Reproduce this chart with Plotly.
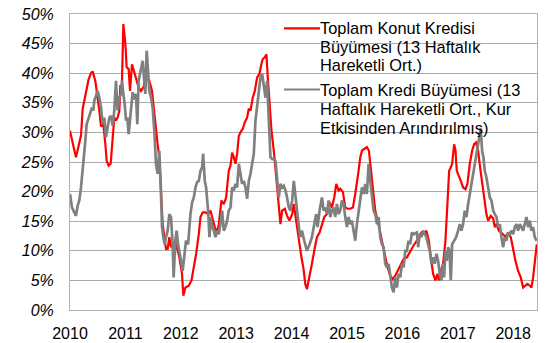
import plotly.graph_objects as go

# ---------------- data (decimal years, % growth) ----------------
konut_t = [
    2010.000, 2010.036, 2010.078, 2010.108, 2010.156, 2010.199, 2010.229, 2010.259, 2010.301, 2010.337,
    2010.379, 2010.409, 2010.457, 2010.499, 2010.529, 2010.560, 2010.602, 2010.638, 2010.662, 2010.698,
    2010.734, 2010.770, 2010.800, 2010.830, 2010.860, 2010.891, 2010.909, 2010.933, 2010.963, 2010.999,
    2011.023, 2011.059, 2011.083, 2011.119, 2011.161, 2011.203, 2011.239, 2011.282, 2011.324, 2011.372,
    2011.432, 2011.480, 2011.504, 2011.540, 2011.582, 2011.612, 2011.643, 2011.673, 2011.703, 2011.733,
    2011.763, 2011.793, 2011.823, 2011.853, 2011.913, 2011.974, 2012.022, 2012.046,
    2012.084, 2012.144, 2012.193, 2012.235, 2012.277, 2012.325, 2012.355, 2012.397, 2012.445, 2012.493,
    2012.536, 2012.566, 2012.614, 2012.656, 2012.686, 2012.734, 2012.776, 2012.818, 2012.866, 2012.897,
    2012.927, 2012.957, 2012.987, 2013.017, 2013.047, 2013.077, 2013.119, 2013.155, 2013.197, 2013.227,
    2013.258, 2013.300, 2013.336, 2013.378, 2013.420, 2013.456, 2013.480, 2013.516, 2013.546, 2013.570,
    2013.600, 2013.637, 2013.679, 2013.709, 2013.739, 2013.769, 2013.799, 2013.829, 2013.877, 2013.919,
    2013.962, 2014.010, 2014.040, 2014.082, 2014.130, 2014.178, 2014.215,
    2014.247, 2014.277, 2014.325, 2014.367, 2014.409, 2014.457, 2014.505, 2014.548, 2014.590, 2014.638,
    2014.686, 2014.728, 2014.770, 2014.806, 2014.848, 2014.878, 2014.927, 2014.969, 2015.011, 2015.059,
    2015.107, 2015.149, 2015.179, 2015.209, 2015.240, 2015.270, 2015.312, 2015.360, 2015.396, 2015.432,
    2015.468, 2015.510, 2015.553, 2015.601, 2015.649, 2015.691, 2015.733, 2015.781, 2015.829, 2015.871,
    2015.913, 2015.961, 2016.022, 2016.082, 2016.142, 2016.202, 2016.262,
    2016.284, 2016.344, 2016.392, 2016.434, 2016.477, 2016.513, 2016.555, 2016.597, 2016.633, 2016.657,
    2016.693, 2016.735, 2016.777, 2016.813, 2016.844, 2016.874, 2016.898, 2016.934, 2016.958, 2016.982,
    2017.006, 2017.054, 2017.096, 2017.138, 2017.174, 2017.217, 2017.259, 2017.295, 2017.331, 2017.367,
    2017.403, 2017.439, 2017.475, 2017.517, 2017.548, 2017.596, 2017.638, 2017.668, 2017.698, 2017.740,
    2017.776, 2017.818, 2017.860, 2017.909, 2017.957, 2017.999, 2018.041, 2018.089, 2018.137, 2018.179,
    2018.221, 2018.258, 2018.300, 2018.330, 2018.360, 2018.390, 2018.426,
]
konut_v = [
    30.3, 29.0, 27.0, 25.8, 28.0, 29.5, 34.0, 35.4, 37.0, 39.0,
    40.0, 40.3, 38.7, 36.0, 33.7, 31.0, 31.4, 28.0, 25.2, 24.4,
    24.7, 29.0, 32.5, 32.0, 32.5, 33.7, 38.0, 36.5, 48.3, 45.0,
    41.0, 40.7, 37.0, 41.5, 40.0, 38.7, 37.6, 37.0, 37.6, 39.3,
    38.7, 37.0, 34.8, 30.9, 28.0, 25.8, 20.7, 14.5, 12.3, 10.3,
    10.3, 12.3, 10.6, 11.1, 11.1, 8.9, 6.1, 2.4,
    3.8, 4.1, 5.0, 7.2, 9.5, 12.8, 15.7, 16.5, 16.5, 16.2,
    16.8, 15.7, 14.0, 13.1, 14.5, 18.5, 17.9, 19.0, 23.5, 24.4,
    26.6, 25.8, 24.7, 26.4, 29.4, 30.0, 30.6, 31.7, 32.5, 34.0,
    33.7, 35.9, 37.0, 39.3, 39.9, 41.6, 42.4, 42.7, 43.2, 39.3,
    34.8, 30.3, 26.9, 23.5, 20.7, 16.8, 14.5, 16.8, 17.1, 15.9,
    15.1, 16.2, 17.9, 15.1, 11.7, 8.9, 7.0,
    4.4, 3.5, 5.5, 7.8, 10.0, 12.3, 13.1, 14.5, 15.7, 16.2,
    18.2, 17.3, 19.0, 21.3, 20.2, 20.5, 19.9, 17.3, 17.1, 17.1,
    17.3, 19.6, 21.3, 23.5, 25.8, 26.9, 27.2, 27.5, 26.9, 23.5,
    19.6, 16.8, 15.1, 13.1, 11.1, 8.9, 7.2, 5.8, 5.2, 5.8,
    6.6, 7.5, 8.6, 8.9, 10.0, 10.9, 11.7,
    12.3, 13.1, 12.8, 13.4, 11.7, 8.9, 6.1, 5.0, 6.1, 5.0,
    6.6, 7.8, 11.7, 17.9, 23.5, 24.1, 24.7, 28.0, 27.0, 23.5,
    23.0, 21.8, 20.7, 20.4, 21.3, 24.7, 26.9, 28.0, 28.3, 26.9,
    24.1, 21.3, 18.5, 16.2, 15.1, 15.9, 15.5, 14.0, 14.5, 13.4,
    13.1, 12.8, 12.3, 13.1, 12.3, 10.0, 8.3, 6.6, 5.5, 3.8,
    4.1, 4.4, 4.1, 3.8, 5.5, 7.8, 11.1,
]

kredi_t = [
    2010.000, 2010.036, 2010.078, 2010.108, 2010.138, 2010.168, 2010.199, 2010.229, 2010.259, 2010.277,
    2010.301, 2010.337, 2010.361, 2010.397, 2010.421, 2010.439, 2010.469, 2010.499, 2010.529, 2010.560,
    2010.590, 2010.620, 2010.650, 2010.680, 2010.710, 2010.740, 2010.770, 2010.800, 2010.830, 2010.860,
    2010.891, 2010.921, 2010.939, 2010.963, 2010.987, 2011.011, 2011.035, 2011.059, 2011.083, 2011.107,
    2011.131, 2011.161, 2011.191, 2011.215, 2011.239, 2011.264, 2011.288, 2011.312, 2011.336, 2011.360,
    2011.384, 2011.408, 2011.432, 2011.462, 2011.492, 2011.522, 2011.552, 2011.582, 2011.612, 2011.637,
    2011.661, 2011.685, 2011.709, 2011.733, 2011.763, 2011.793, 2011.823, 2011.853, 2011.871, 2011.901,
    2011.925, 2011.950, 2011.974, 2012.004, 2012.034, 2012.064, 2012.094,
    2012.132, 2012.174, 2012.205, 2012.235, 2012.265, 2012.295, 2012.325, 2012.355, 2012.385, 2012.403,
    2012.433, 2012.457, 2012.493, 2012.517, 2012.542, 2012.566, 2012.596, 2012.626, 2012.656, 2012.686,
    2012.716, 2012.746, 2012.776, 2012.806, 2012.836, 2012.866, 2012.897, 2012.927, 2012.957, 2012.987,
    2013.017, 2013.047, 2013.077, 2013.107, 2013.137, 2013.167, 2013.197, 2013.227, 2013.258, 2013.288,
    2013.318, 2013.348, 2013.378, 2013.408, 2013.438, 2013.468, 2013.498, 2013.528, 2013.558, 2013.588,
    2013.619, 2013.649, 2013.679, 2013.709, 2013.739, 2013.769, 2013.799, 2013.829, 2013.859, 2013.889,
    2013.919, 2013.950, 2013.980, 2014.010, 2014.040,
    2014.096, 2014.126, 2014.156, 2014.187, 2014.229, 2014.277, 2014.325, 2014.367, 2014.409, 2014.445,
    2014.469, 2014.505, 2014.548, 2014.578, 2014.608, 2014.638, 2014.668, 2014.698, 2014.728, 2014.758,
    2014.788, 2014.818, 2014.848, 2014.878, 2014.909, 2014.939, 2014.969, 2014.999, 2015.029, 2015.059,
    2015.089, 2015.119, 2015.149, 2015.179, 2015.209, 2015.240, 2015.270, 2015.300, 2015.330, 2015.360,
    2015.390, 2015.420, 2015.450, 2015.480, 2015.510, 2015.541, 2015.571, 2015.601, 2015.631, 2015.661,
    2015.691, 2015.721, 2015.751, 2015.781, 2015.811, 2015.841, 2015.871, 2015.901, 2015.931, 2015.962,
    2015.992, 2016.022, 2016.052, 2016.082, 2016.112, 2016.142, 2016.172, 2016.202, 2016.262,
    2016.284, 2016.314, 2016.344, 2016.374, 2016.404, 2016.434, 2016.464, 2016.495, 2016.525, 2016.555,
    2016.585, 2016.615, 2016.645, 2016.675, 2016.705, 2016.735, 2016.753, 2016.777, 2016.801, 2016.826,
    2016.850, 2016.874, 2016.898, 2016.934, 2016.970, 2017.006, 2017.036, 2017.066, 2017.096, 2017.126,
    2017.156, 2017.187, 2017.217, 2017.247, 2017.277, 2017.307, 2017.337, 2017.367, 2017.397, 2017.415,
    2017.439, 2017.463, 2017.487, 2017.517, 2017.548, 2017.578, 2017.608, 2017.638, 2017.668, 2017.698,
    2017.728, 2017.758, 2017.788, 2017.818, 2017.848, 2017.878, 2017.909, 2017.939, 2017.969, 2017.999,
    2018.029, 2018.059, 2018.089, 2018.119, 2018.149, 2018.179, 2018.209, 2018.239, 2018.270, 2018.300,
    2018.330, 2018.360, 2018.390, 2018.426,
]
kredi_v = [
    19.6, 17.3, 16.5, 15.9, 17.6, 18.5, 20.7, 23.5, 25.8, 28.6,
    31.4, 32.5, 33.1, 34.2, 33.7, 35.4, 36.2, 37.0, 35.9, 34.2,
    31.4, 32.5, 29.2, 30.9, 32.5, 32.8, 31.1, 33.7, 38.7, 33.7,
    35.9, 36.5, 38.7, 36.5, 34.8, 32.0, 32.5, 29.7, 32.0, 34.2,
    36.8, 35.6, 36.5, 31.4, 38.7, 39.9, 41.0, 42.1, 39.3, 36.5,
    43.8, 39.3, 37.0, 35.9, 34.2, 30.3, 24.7, 23.0, 26.9, 21.3,
    14.0, 12.3, 11.1, 12.3, 13.4, 16.2, 15.7, 11.1, 5.5, 11.7,
    13.4, 11.1, 10.0, 8.3, 6.6, 8.9, 11.7,
    11.1, 16.2, 18.2, 19.0, 20.7, 21.6, 21.8, 23.5, 24.1, 26.4,
    21.8, 20.7, 16.8, 12.3, 15.7, 14.0, 13.4, 12.3, 13.4, 12.8,
    14.5, 16.8, 13.4, 14.0, 15.1, 16.8, 17.3, 20.7, 20.2, 21.3,
    20.7, 24.7, 23.0, 21.3, 21.8, 20.7, 18.8, 21.8, 23.0, 24.7,
    26.4, 32.0, 34.8, 36.5, 39.3, 39.9, 38.2, 35.9, 38.7, 32.0,
    25.8, 25.5, 25.5, 25.2, 22.4, 19.0, 21.3, 20.7, 21.0, 20.2,
    19.0, 17.3, 16.8, 18.5, 21.8,
    16.2, 14.5, 12.3, 13.4, 11.7, 10.0, 11.1, 12.3, 14.5, 16.2,
    14.0, 16.8, 19.0, 16.8, 17.3, 16.2, 18.5, 15.7, 16.8, 17.3,
    15.7, 17.9, 16.2, 16.8, 18.5, 17.9, 15.7, 14.0, 15.7, 14.5,
    15.1, 13.4, 11.7, 14.5, 16.8, 19.0, 20.7, 19.6, 21.3, 19.6,
    24.7, 21.8, 19.0, 16.8, 16.2, 14.5, 15.7, 12.3, 11.1, 10.6,
    7.8, 7.2, 7.8, 5.5, 3.8, 3.0, 5.5, 3.8, 6.1, 5.5,
    7.8, 7.2, 10.0, 10.0, 11.7, 11.1, 13.1, 12.8, 13.1,
    10.6, 12.8, 12.3, 13.4, 12.8, 12.3, 11.1, 10.0, 7.8, 8.9,
    7.8, 9.5, 8.3, 6.1, 5.0, 7.8, 5.5, 10.0, 8.3, 10.6,
    10.0, 5.0, 11.1, 11.7, 12.3, 13.4, 14.5, 13.4, 14.5, 16.8,
    15.7, 17.9, 19.6, 21.3, 22.4, 24.7, 25.8, 28.0, 29.1, 30.7,
    26.9, 25.8, 23.5, 22.4, 20.7, 19.0, 18.5, 16.8, 16.2, 15.7,
    14.0, 14.5, 12.3, 10.6, 12.3, 11.7, 13.1, 12.8, 13.4, 12.8,
    14.0, 14.5, 13.4, 14.5, 14.0, 13.4, 14.5, 15.7, 14.0, 15.1,
    13.4, 14.0, 12.3, 11.7,
]

year_ticks = [2010, 2011, 2012, 2013, 2014, 2015, 2016, 2017, 2018]
year_labels = ["2010", "2011", "2012", "2013", "2014", "2015", "2016", "2017", "2018"]
y_ticks = [0, 5, 10, 15, 20, 25, 30, 35, 40, 45, 50]
y_labels = ["0%", "5%", "10%", "15%", "20%", "25%", "30%", "35%", "40%", "45%", "50%"]

legend_konut = ["Toplam Konut Kredisi", "Büyümesi (13 Haftalık", "Hareketli Ort.)"]
legend_kredi = ["Toplam Kredi Büyümesi (13", "Haftalık Hareketli Ort., Kur", "Etkisinden Arındırılmış)"]

RED = "#FF0000"
GRAY = "#808080"
FONT = "Liberation Sans, Arial, sans-serif"

fig = go.Figure()
fig.add_trace(go.Scatter(x=konut_t, y=konut_v, mode="lines",
                         line=dict(color=RED, width=2.2), name=" ".join(legend_konut),
                         showlegend=False))
fig.add_trace(go.Scatter(x=kredi_t, y=kredi_v, mode="lines",
                         line=dict(color=GRAY, width=2.7), name=" ".join(legend_kredi),
                         showlegend=False))

# manual legend (paper coordinates inside the plot area)
L, R, T, B = 70, 537, 14, 310
W, H = R - L, B - T
def px(xp):
    return (xp - L) / W
def py(yp):
    return (B - yp) / H

legend_rows = [(RED, legend_konut, 28.3, 18.5), (GRAY, legend_kredi, 89.5, 19.0)]
for color, lines, y0, step in legend_rows:
    fig.add_shape(type="line", xref="paper", yref="paper",
                  x0=px(284), x1=px(320), y0=py(y0), y1=py(y0),
                  line=dict(color=color, width=2.2))
    for i, txt in enumerate(lines):
        fig.add_annotation(text=txt, xref="paper", yref="paper",
                           x=px(319), y=py(y0 + i * step), xanchor="left", yanchor="middle",
                           borderpad=0, showarrow=False,
                           font=dict(family=FONT, size=16.4, color="#000000"))

fig.update_layout(
    width=555, height=343,
    margin=dict(l=L, r=555 - R, t=T, b=343 - B),
    paper_bgcolor="white", plot_bgcolor="white",
    font=dict(family=FONT, color="#000000"),
    showlegend=False,
)
fig.update_xaxes(range=[2010, 2018.43], tickmode="array", tickvals=year_ticks, ticktext=year_labels,
                 showgrid=False, zeroline=False, showline=True, linecolor="#B0B0B0", linewidth=1,
                 mirror=True, ticks="", ticklabelstandoff=9, automargin=False,
                 tickfont=dict(family=FONT, size=16, color="#000000"))
fig.update_yaxes(range=[0, 50], tickmode="array", tickvals=y_ticks,
                 ticktext=["<i>" + s + "</i>" for s in y_labels],
                 showgrid=True, gridcolor="#ABABAB", gridwidth=1, zeroline=False,
                 showline=True, linecolor="#B0B0B0", linewidth=1, mirror=True, ticks="",
                 ticklabelstandoff=12, automargin=False,
                 tickfont=dict(family=FONT, size=16, color="#000000", style="italic"))

fig.write_html("out.html")
